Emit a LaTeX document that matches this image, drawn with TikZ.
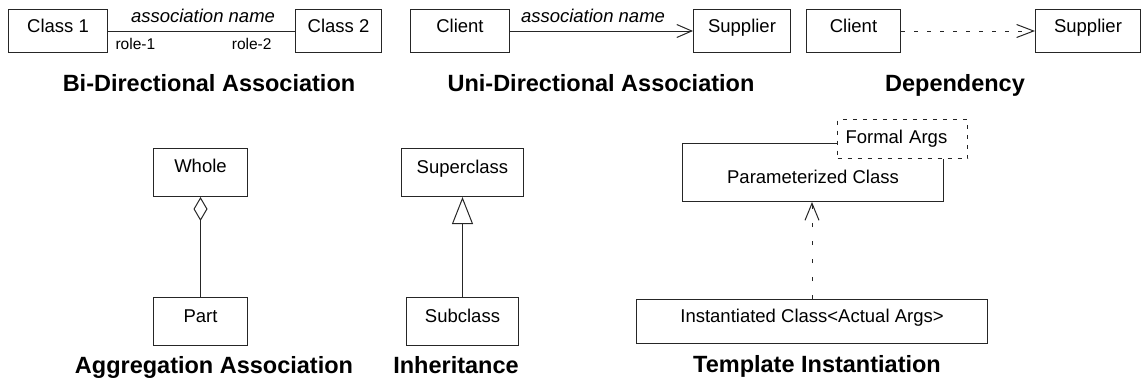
\documentclass[tikz,border=0pt]{standalone}
\usepackage{fontspec}
\setmainfont{Liberation Sans}
\usetikzlibrary{arrows.meta}
\newcommand\boxfont{\fontsize{18.5}{22}\selectfont}
\newcommand\rolefont{\fontsize{15.5}{18}\selectfont}
\newcommand\titlefont{\fontsize{23.5}{28}\selectfont\bfseries}

\begin{document}
\begin{tikzpicture}[x=1pt,y=-1pt,
  umlbox/.style={draw=black!85, line width=1pt, inner xsep=0pt, inner ysep=0pt,
                 font=\boxfont, anchor=north west},
  caption/.style={anchor=base, font=\titlefont},
  assoc/.style={anchor=base, font=\boxfont\itshape},
  role/.style={font=\rolefont},
  link/.style={draw=black!85, line width=1pt},
]
\useasboundingbox (0,0) rectangle (1143,388);

% --- bi-directional association
\node[umlbox, minimum width=99pt, text height=23pt, text depth=20pt] (c1) at (8,9) {Class 1};
\node[umlbox, minimum width=86pt, text height=23pt, text depth=20pt] (c2) at (295,9) {Class 2};
\draw[link] (c1.east) -- (c2.west);
\node[assoc] (an1) at (203,23) {association name};
\node[role, anchor=base west] (r1) at (112,49) {role-1};
\node[role, anchor=base east] (r2) at (275,49) {role-2};
\node[caption] (t1) at (209,91) {Bi-Directional Association};

% --- uni-directional association
\node[umlbox, minimum width=99pt, text height=23pt, text depth=20pt] (cl1) at (410,9) {Client};
\node[umlbox, minimum width=97pt, text height=23pt, text depth=20pt] (sp1) at (693,9) {Supplier};
\draw[link, -{Straight Barb[length=15pt,width=13pt]}] (cl1) -- (sp1);
\node[assoc] (an2) at (593,23) {association name};
\node[caption] (t2) at (601,91) {Uni-Directional Association};

% --- dependency
\node[umlbox, minimum width=94pt, text height=23pt, text depth=20pt] (cl2) at (806,9) {Client};
\node[umlbox, minimum width=105pt, text height=23pt, text depth=20pt] (sp2) at (1035,9) {Supplier};
\draw[link, dash pattern=on 4pt off 9pt, -{Straight Barb[length=17pt,width=13pt]}] (cl2) -- (sp2);
\node[caption] (t3) at (955,91) {Dependency};

% --- aggregation
\node[umlbox, minimum width=94pt, text height=24pt, text depth=24pt] (whole) at (153,148) {Whole};
\node[umlbox, minimum width=94pt, text height=25pt, text depth=23pt] (part) at (153,297) {Part};
\draw[link, {Diamond[open,length=24pt,width=14pt]}-] (whole) -- (part);
\node[caption] (t4) at (214,373) {Aggregation Association};

% --- inheritance
\node[umlbox, minimum width=122pt, text height=25pt, text depth=23pt] (super) at (401,148) {Superclass};
\node[umlbox, minimum width=112pt, text height=25pt, text depth=23pt] (sub) at (406,297) {Subclass};
\draw[link, {Triangle[open,length=27pt,width=21pt]}-] (super) -- (sub);
\node[caption] (t5) at (456,373) {Inheritance};

% --- template instantiation
\node[umlbox, minimum width=261pt, text height=40pt, text depth=18pt] (param) at (682,143) {Parameterized Class};
\node[umlbox, fill=white, dash pattern=on 4pt off 6pt, inner xsep=8pt,
      text width=114pt, align=left, text height=24pt, text depth=15pt] (formal) at (837,119) {Formal Args};
\node[umlbox, minimum width=351pt, text height=23pt, text depth=21pt] (inst) at (636,299) {Instantiated Class<Actual Args>};
\draw[link, dash pattern=on 4pt off 14pt, -{Straight Barb[length=17pt,width=14pt]}]
  (inst.north) -- (inst.north |- param.south);
\node[caption] (t6) at (817,372) {Template Instantiation};
\end{tikzpicture}
\end{document}
